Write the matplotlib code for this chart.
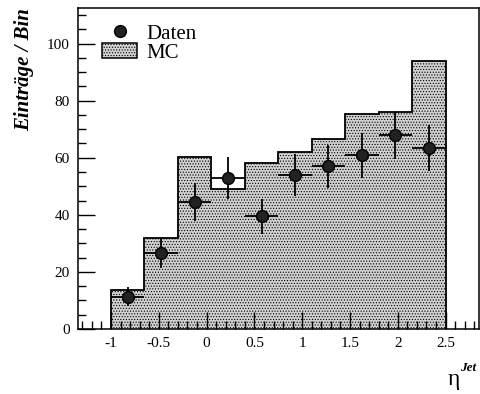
import numpy as np
import matplotlib.pyplot as plt
from matplotlib.patches import Patch
from matplotlib.lines import Line2D
from matplotlib.ticker import MultipleLocator

plt.rcParams['font.family'] = ['Liberation Serif', 'DejaVu Serif']
plt.rcParams['hatch.color'] = '#a0a0a0'
plt.rcParams['hatch.linewidth'] = 0.5

# bin edges in eta
edges = np.linspace(-1.0, 2.5, 11)
# MC histogram (entries / bin)
mc = [13.8, 32.0, 60.4, 48.9, 58.3, 61.9, 66.6, 75.4, 75.9, 94.0]
# data points and their errors
data = [11.3, 26.5, 44.5, 53.0, 39.5, 53.9, 57.0, 60.8, 67.8, 63.4]
data_err = [3.4, 5.2, 6.7, 7.3, 6.2, 7.3, 7.6, 7.8, 8.1, 7.9]

centers = 0.5 * (edges[:-1] + edges[1:])
halfw = 0.5 * np.diff(edges)

fill_col = '#d0d0d0'
fill_hatch = '......'

fig = plt.figure(figsize=(4.8, 3.94), dpi=100)
ax = fig.add_axes([0.1625, 0.165, 0.8355, 0.815])

ax.stairs(mc, edges, fill=True, facecolor=fill_col, edgecolor='black',
          linewidth=1.3, hatch=fill_hatch)
ax.errorbar(centers, data, xerr=halfw, yerr=data_err, fmt='o', color='black',
            markerfacecolor='#222222', markeredgecolor='black', markersize=8.5,
            elinewidth=1.3, capsize=0)

ax.set_xlim(-1.345, 2.85)
ax.set_ylim(0, 112.5)

ax.xaxis.set_minor_locator(MultipleLocator(0.1))
ax.yaxis.set_major_locator(MultipleLocator(20))
ax.yaxis.set_minor_locator(MultipleLocator(5))
ax.set_xticks(np.arange(-1, 2.51, 0.5))
ax.set_xticklabels(['-1', '-0.5', '0', '0.5', '1', '1.5', '2', '2.5'])
ax.tick_params(which='both', direction='in', top=False, right=False,
               labelsize=11, width=1.0)
ax.tick_params(which='major', length=12.5, pad=6)
ax.tick_params(which='minor', length=5.5)
for s in ax.spines.values():
    s.set_linewidth(1.1)

ax.set_ylabel('Einträge / Bin', loc='top', fontsize=15, fontweight='bold',
              fontstyle='italic', labelpad=9)

fig.text(0.946, 0.01, 'η', fontsize=17, ha='center', va='bottom')
fig.text(0.958, 0.052, 'Jet', fontsize=9.5, fontweight='bold',
         fontstyle='italic', ha='left', va='bottom')

handles = [Line2D([], [], marker='o', linestyle='none', color='black',
                  markerfacecolor='#222222', markersize=8.5),
           Patch(facecolor=fill_col, edgecolor='black', hatch=fill_hatch,
                 linewidth=1.1)]
ax.legend(handles, ['Daten', 'MC'], loc='upper left',
          bbox_to_anchor=(0.06, 0.95), frameon=False, fontsize=15,
          borderpad=0, borderaxespad=0, handlelength=1.7, handleheight=0.7,
          handletextpad=0.45, labelspacing=-0.02)

fig.savefig('out.png', dpi=100)
